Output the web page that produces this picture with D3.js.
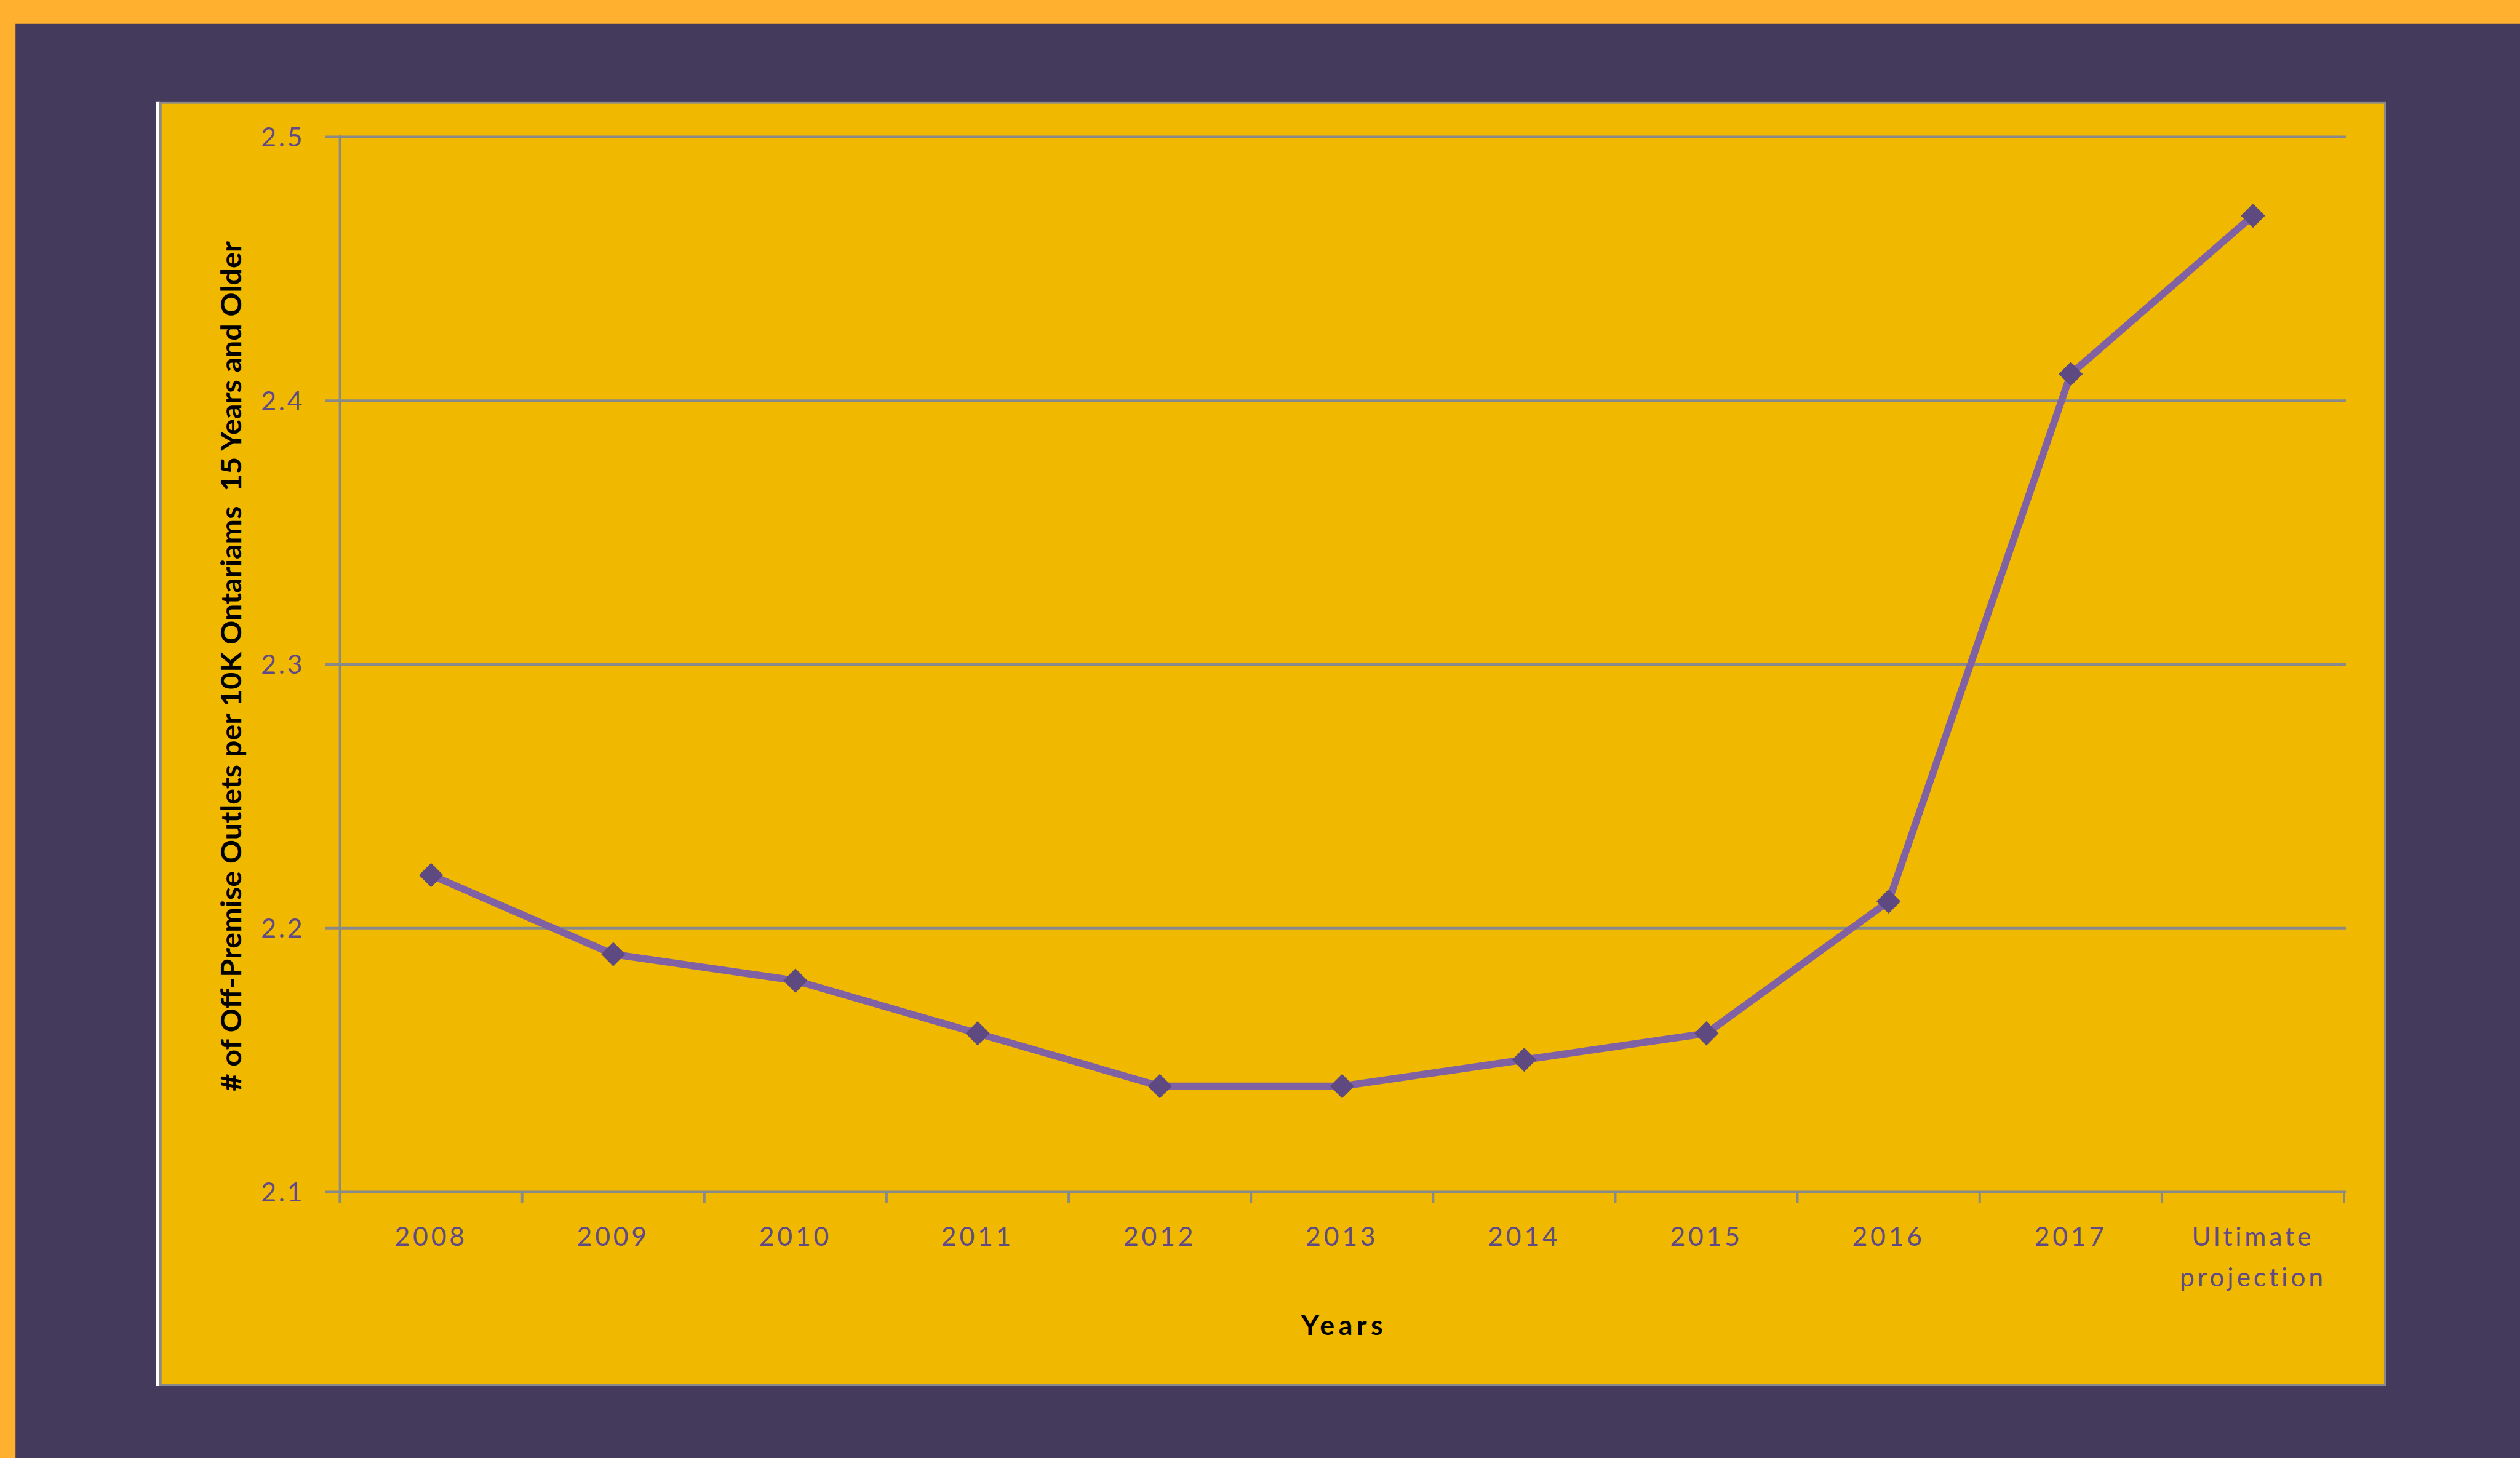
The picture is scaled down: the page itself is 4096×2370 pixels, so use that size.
<!DOCTYPE html>
<html>
<head>
<meta charset="utf-8">
<script src="https://cdn.jsdelivr.net/npm/d3@7"></script>
<style>
  html, body { margin: 0; padding: 0; background: #443A5C; overflow: hidden; }
  svg { display: block; }
</style>
</head>
<body>
<script>
// ---- data ----
const categories = ["2008","2009","2010","2011","2012","2013","2014","2015","2016","2017","Ultimate projection"];
const values = [2.22, 2.19, 2.18, 2.16, 2.14, 2.14, 2.15, 2.16, 2.21, 2.41, 2.47];
const yTicks = [2.1, 2.2, 2.3, 2.4, 2.5];
const yTitle = "# of Off-Premise Outlets per 10K Ontariams  15 Years and Older";
const xTitle = "Years";

// ---- layout (reference pixel space, scaled to window) ----
const W = 4096, H = 2370, RW = 4225, RH = 2445;
const s = W / RW;

const svg = d3.select("body").append("svg").attr("width", W).attr("height", H);
const root = svg.append("g").attr("transform", `scale(${s})`);

// backgrounds
root.append("rect").attr("x", 0).attr("y", 0).attr("width", RW).attr("height", RH).attr("fill", "#FFB02E");
root.append("rect").attr("x", 26).attr("y", 40).attr("width", RW - 26).attr("height", RH - 40).attr("fill", "#443A5C");

// chart frame
root.append("rect").attr("x", 262).attr("y", 170).attr("width", 6).attr("height", 2154).attr("fill", "#FFFFFF");
root.append("rect").attr("x", 269).attr("y", 172).attr("width", 3730).attr("height", 2150)
  .attr("fill", "#F1B800").attr("stroke", "#898989").attr("stroke-width", 4);

const plotL = 570, plotR = 3930, plotT = 229, plotB = 1998;
const x = d3.scaleBand().domain(categories).range([plotL, plotR]).paddingInner(0).paddingOuter(0);
const y = d3.scaleLinear().domain([2.1, 2.5]).range([plotB, plotT]);

const gridColor = "#898989";
const labelColor = "#5F4A85";
const font = "Lato, 'Open Sans', sans-serif";

// gridlines + y ticks
const yAxis = d3.axisLeft(y).tickValues(yTicks).tickSize(-(3933 - plotL)).tickSizeOuter(0).tickPadding(0)
  .tickFormat(d3.format(".1f"));
const gy = root.append("g").attr("transform", `translate(${plotL},0)`).call(yAxis);
gy.select(".domain").remove();
gy.selectAll(".tick line").attr("x1", -25).attr("stroke", gridColor).attr("stroke-width", 4);
gy.selectAll(".tick text").attr("x", -59).attr("dy", "0.36em")
  .attr("fill", labelColor).attr("font-family", font).attr("font-size", 44)
  .attr("letter-spacing", 4).attr("text-anchor", "end");

// y axis line
root.append("line").attr("x1", plotL).attr("x2", plotL).attr("y1", plotT - 2).attr("y2", plotB + 19)
  .attr("stroke", gridColor).attr("stroke-width", 4);

// x axis with ticks at band boundaries
const boundaries = categories.map(c => x(c)).concat([x(categories[categories.length - 1]) + x.bandwidth()]);
root.append("g").selectAll("line").data(boundaries).join("line")
  .attr("x1", d => d).attr("x2", d => d).attr("y1", plotB).attr("y2", plotB + 19)
  .attr("stroke", gridColor).attr("stroke-width", 4);

// x labels
const xl = root.append("g").selectAll("text").data(categories).join("text")
  .attr("x", d => x(d) + x.bandwidth() / 2).attr("y", 2089)
  .attr("text-anchor", "middle").attr("fill", labelColor).attr("font-family", font)
  .attr("font-size", 44).attr("letter-spacing", 5);
xl.each(function(d) {
  const words = d.split(" ");
  const t = d3.select(this);
  if (words.length > 1) {
    words.forEach((w, i) => {
      t.append("tspan").attr("x", x(d) + x.bandwidth() / 2).attr("dy", i === 0 ? 0 : 68).text(w);
    });
  } else t.text(d);
});

// line
const line = d3.line().x((d, i) => x(categories[i]) + x.bandwidth() / 2).y(d => y(d));
root.append("path").datum(values).attr("d", line).attr("fill", "none")
  .attr("stroke", "#8062A4").attr("stroke-width", 12).attr("stroke-linejoin", "round");

// markers
const diamond = d3.symbol().type(d3.symbolDiamond2).size(1050);
root.append("g").selectAll("path").data(values).join("path")
  .attr("d", diamond)
  .attr("transform", (d, i) => `translate(${x(categories[i]) + x.bandwidth() / 2},${y(d)})`)
  .attr("fill", "#5E4A80");

// titles
root.append("text").attr("x", (plotL + plotR) / 2).attr("y", 2238).attr("text-anchor", "middle")
  .attr("font-family", font).attr("font-weight", "bold").attr("font-size", 46).attr("fill", "#000")
  .attr("textLength", 137).attr("lengthAdjust", "spacing").text(xTitle);

root.append("text").attr("transform", "translate(404,1117) rotate(-90)").attr("text-anchor", "middle")
  .attr("font-family", font).attr("font-weight", "bold").attr("font-size", 48).attr("fill", "#000")
  .attr("xml:space", "preserve").style("white-space", "pre")
  .attr("textLength", 1425).attr("lengthAdjust", "spacingAndGlyphs").text(yTitle);
</script>
</body>
</html>
